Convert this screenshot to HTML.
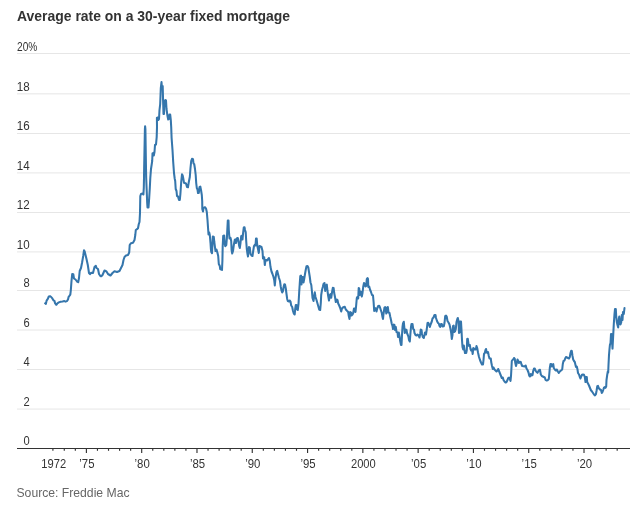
<!DOCTYPE html>
<html lang="en">
<head>
<meta charset="utf-8">
<title>Average rate on a 30-year fixed mortgage</title>
<style>
html,body{margin:0;padding:0;background:#fff;}
body{width:640px;height:509px;overflow:hidden;font-family:"Liberation Sans",sans-serif;}
svg{display:block;position:absolute;left:0;top:0;}
svg text{font-family:"Liberation Sans",sans-serif;}
.t{fill:#333;font-size:13px;}
</style>
</head>
<body>
<svg width="640" height="509" viewBox="0 0 640 509">
<rect width="640" height="509" fill="#fff"/>
<text x="17" y="21" font-size="14" font-weight="bold" fill="#333" textLength="273" lengthAdjust="spacingAndGlyphs">Average rate on a 30-year fixed mortgage</text>
<g stroke="#e6e6e6" stroke-width="1">
<line x1="17" x2="630" y1="53.5" y2="53.5"/>
<line x1="17" x2="630" y1="93.85" y2="93.85"/>
<line x1="17" x2="630" y1="133.5" y2="133.5"/>
<line x1="17" x2="630" y1="172.9" y2="172.9"/>
<line x1="17" x2="630" y1="212.5" y2="212.5"/>
<line x1="17" x2="630" y1="251.9" y2="251.9"/>
<line x1="17" x2="630" y1="290.5" y2="290.5"/>
<line x1="17" x2="630" y1="330.0" y2="330.0"/>
<line x1="17" x2="630" y1="369.5" y2="369.5"/>
<line x1="17" x2="630" y1="409.05" y2="409.05"/>
</g>
<g class="t">
<text x="17" y="50.90" textLength="20.3" lengthAdjust="spacingAndGlyphs">20%</text>
<text x="29.6" y="90.65" text-anchor="end" textLength="12.9" lengthAdjust="spacingAndGlyphs">18</text>
<text x="29.6" y="130.30" text-anchor="end" textLength="12.9" lengthAdjust="spacingAndGlyphs">16</text>
<text x="29.6" y="169.70" text-anchor="end" textLength="12.9" lengthAdjust="spacingAndGlyphs">14</text>
<text x="29.6" y="209.30" text-anchor="end" textLength="12.9" lengthAdjust="spacingAndGlyphs">12</text>
<text x="29.6" y="248.70" text-anchor="end" textLength="12.9" lengthAdjust="spacingAndGlyphs">10</text>
<text x="29.6" y="287.30" text-anchor="end" textLength="6.2" lengthAdjust="spacingAndGlyphs">8</text>
<text x="29.6" y="326.80" text-anchor="end" textLength="6.2" lengthAdjust="spacingAndGlyphs">6</text>
<text x="29.6" y="366.30" text-anchor="end" textLength="6.2" lengthAdjust="spacingAndGlyphs">4</text>
<text x="29.6" y="405.85" text-anchor="end" textLength="6.2" lengthAdjust="spacingAndGlyphs">2</text>
<text x="29.6" y="445.30" text-anchor="end" textLength="6.2" lengthAdjust="spacingAndGlyphs">0</text>
</g>
<g stroke="#333" stroke-width="1.15">
<line x1="17" x2="630" y1="448.5" y2="448.5" stroke-width="1"/>
<line x1="52.90" x2="52.90" y1="449" y2="450.8"/>
<line x1="64.28" x2="64.28" y1="449" y2="450.8"/>
<line x1="75.34" x2="75.34" y1="449" y2="450.8"/>
<line x1="86.40" x2="86.40" y1="449" y2="453"/>
<line x1="97.46" x2="97.46" y1="449" y2="450.8"/>
<line x1="108.52" x2="108.52" y1="449" y2="450.8"/>
<line x1="119.57" x2="119.57" y1="449" y2="450.8"/>
<line x1="130.63" x2="130.63" y1="449" y2="450.8"/>
<line x1="141.69" x2="141.69" y1="449" y2="453"/>
<line x1="152.75" x2="152.75" y1="449" y2="450.8"/>
<line x1="163.81" x2="163.81" y1="449" y2="450.8"/>
<line x1="174.86" x2="174.86" y1="449" y2="450.8"/>
<line x1="185.92" x2="185.92" y1="449" y2="450.8"/>
<line x1="196.98" x2="196.98" y1="449" y2="453"/>
<line x1="208.04" x2="208.04" y1="449" y2="450.8"/>
<line x1="219.10" x2="219.10" y1="449" y2="450.8"/>
<line x1="230.15" x2="230.15" y1="449" y2="450.8"/>
<line x1="241.21" x2="241.21" y1="449" y2="450.8"/>
<line x1="252.27" x2="252.27" y1="449" y2="453"/>
<line x1="263.33" x2="263.33" y1="449" y2="450.8"/>
<line x1="274.39" x2="274.39" y1="449" y2="450.8"/>
<line x1="285.44" x2="285.44" y1="449" y2="450.8"/>
<line x1="296.50" x2="296.50" y1="449" y2="450.8"/>
<line x1="307.56" x2="307.56" y1="449" y2="453"/>
<line x1="318.62" x2="318.62" y1="449" y2="450.8"/>
<line x1="329.68" x2="329.68" y1="449" y2="450.8"/>
<line x1="340.73" x2="340.73" y1="449" y2="450.8"/>
<line x1="351.79" x2="351.79" y1="449" y2="450.8"/>
<line x1="362.85" x2="362.85" y1="449" y2="453"/>
<line x1="373.91" x2="373.91" y1="449" y2="450.8"/>
<line x1="384.97" x2="384.97" y1="449" y2="450.8"/>
<line x1="396.02" x2="396.02" y1="449" y2="450.8"/>
<line x1="407.08" x2="407.08" y1="449" y2="450.8"/>
<line x1="418.14" x2="418.14" y1="449" y2="453"/>
<line x1="429.20" x2="429.20" y1="449" y2="450.8"/>
<line x1="440.26" x2="440.26" y1="449" y2="450.8"/>
<line x1="451.31" x2="451.31" y1="449" y2="450.8"/>
<line x1="462.37" x2="462.37" y1="449" y2="450.8"/>
<line x1="473.43" x2="473.43" y1="449" y2="453"/>
<line x1="484.49" x2="484.49" y1="449" y2="450.8"/>
<line x1="495.55" x2="495.55" y1="449" y2="450.8"/>
<line x1="506.60" x2="506.60" y1="449" y2="450.8"/>
<line x1="517.66" x2="517.66" y1="449" y2="450.8"/>
<line x1="528.72" x2="528.72" y1="449" y2="453"/>
<line x1="539.78" x2="539.78" y1="449" y2="450.8"/>
<line x1="550.84" x2="550.84" y1="449" y2="450.8"/>
<line x1="561.89" x2="561.89" y1="449" y2="450.8"/>
<line x1="572.95" x2="572.95" y1="449" y2="450.8"/>
<line x1="584.01" x2="584.01" y1="449" y2="453"/>
<line x1="595.07" x2="595.07" y1="449" y2="450.8"/>
<line x1="606.13" x2="606.13" y1="449" y2="450.8"/>
<line x1="617.18" x2="617.18" y1="449" y2="450.8"/>
</g>
<g class="t" text-anchor="middle">
<text x="53.73" y="467.7" textLength="24.8" lengthAdjust="spacingAndGlyphs">1972</text>
<text x="86.90" y="467.7" textLength="15.2" lengthAdjust="spacingAndGlyphs">’75</text>
<text x="142.19" y="467.7" textLength="15.2" lengthAdjust="spacingAndGlyphs">’80</text>
<text x="197.48" y="467.7" textLength="15.2" lengthAdjust="spacingAndGlyphs">’85</text>
<text x="252.77" y="467.7" textLength="15.2" lengthAdjust="spacingAndGlyphs">’90</text>
<text x="308.06" y="467.7" textLength="15.2" lengthAdjust="spacingAndGlyphs">’95</text>
<text x="363.35" y="467.7" textLength="24.8" lengthAdjust="spacingAndGlyphs">2000</text>
<text x="418.64" y="467.7" textLength="15.2" lengthAdjust="spacingAndGlyphs">’05</text>
<text x="473.93" y="467.7" textLength="15.2" lengthAdjust="spacingAndGlyphs">’10</text>
<text x="529.22" y="467.7" textLength="15.2" lengthAdjust="spacingAndGlyphs">’15</text>
<text x="584.51" y="467.7" textLength="15.2" lengthAdjust="spacingAndGlyphs">’20</text>
</g>
<path d="M45.10 303.30 L45.90 303.90 L46.60 300.60 L47.80 298.90 L48.80 296.40 L50.00 296.20 L51.20 297.00 L52.50 298.70 L53.40 300.30 L54.50 300.90 L55.00 303.10 L56.30 304.80 L57.40 303.30 L58.80 302.40 L60.60 301.80 L62.50 301.60 L64.40 301.10 L65.60 301.60 L67.00 301.10 L68.00 299.40 L68.60 296.90 L69.40 295.90 L70.30 294.70 L70.80 290.50 L71.50 281.00 L72.20 274.00 L73.30 274.20 L74.00 278.50 L75.50 279.50 L77.00 281.50 L78.20 282.20 L79.00 278.00 L79.70 271.00 L81.00 268.00 L82.00 263.00 L83.20 256.00 L84.00 250.30 L84.70 251.50 L86.50 259.00 L87.80 265.00 L89.00 273.00 L90.00 274.20 L91.00 272.80 L93.00 273.00 L94.50 267.00 L95.80 265.80 L96.50 268.00 L98.00 269.00 L99.00 274.00 L100.50 276.30 L101.50 276.20 L102.50 275.00 L104.50 270.50 L106.50 271.50 L108.00 274.00 L110.50 275.50 L112.50 273.00 L114.50 271.20 L117.00 272.00 L119.50 271.00 L121.00 268.00 L122.50 265.00 L123.50 260.00 L124.50 257.00 L126.00 255.50 L128.00 255.00 L129.20 252.50 L129.70 245.00 L131.00 243.20 L133.00 242.80 L134.50 240.00 L135.30 235.00 L135.80 230.00 L137.00 229.20 L138.00 228.30 L138.80 224.00 L139.50 222.00 L140.00 213.00 L140.30 196.00 L141.00 194.00 L142.50 193.50 L143.40 194.50 L143.80 188.00 L144.00 178.00 L144.20 165.00 L144.90 129.00 L145.10 126.20 L145.40 129.00 L146.00 168.00 L146.20 178.00 L146.60 188.00 L147.20 203.00 L147.50 207.50 L148.50 207.50 L149.20 198.00 L149.80 188.00 L150.30 178.00 L151.00 169.00 L152.20 161.00 L152.50 153.50 L153.50 153.00 L153.80 155.50 L154.50 152.00 L155.00 145.00 L156.00 144.50 L156.70 137.00 L157.00 127.00 L156.90 118.00 L157.80 117.50 L158.20 120.00 L159.00 119.00 L159.50 110.00 L160.20 104.00 L160.80 88.00 L161.50 82.00 L161.80 86.00 L162.70 86.00 L163.10 101.00 L163.50 114.00 L164.00 114.00 L164.50 101.00 L165.50 100.00 L166.00 100.50 L166.50 109.00 L167.50 116.00 L168.20 119.50 L169.00 119.00 L169.50 114.50 L170.20 114.50 L170.80 120.00 L171.20 127.00 L171.60 138.00 L172.50 150.00 L173.20 162.00 L174.00 173.00 L174.70 178.50 L175.20 181.00 L175.70 189.00 L176.50 191.00 L177.00 196.00 L178.00 196.50 L179.00 200.00 L179.80 200.00 L180.40 194.00 L181.20 182.00 L182.00 174.30 L182.60 175.20 L183.20 178.00 L184.00 182.80 L186.00 183.50 L187.00 187.00 L188.00 187.20 L188.80 182.00 L189.80 177.00 L190.50 168.00 L191.20 161.00 L192.00 158.80 L193.00 159.20 L193.50 163.50 L194.20 164.00 L195.00 169.00 L195.70 175.00 L196.20 183.00 L196.80 188.00 L197.50 189.50 L198.00 193.00 L198.80 193.00 L199.50 187.00 L200.30 186.50 L201.00 190.00 L201.80 195.00 L202.20 201.00 L202.30 209.00 L203.00 211.50 L203.50 208.00 L205.00 207.20 L206.00 208.50 L206.80 212.00 L207.50 220.00 L208.20 230.00 L208.50 234.50 L209.20 232.50 L209.80 235.00 L210.50 243.00 L210.90 249.00 L211.30 252.00 L212.00 253.20 L212.40 245.00 L212.80 236.50 L213.80 237.00 L214.30 242.00 L214.80 246.00 L215.50 251.00 L216.50 249.50 L217.50 253.00 L218.20 256.00 L218.80 264.00 L219.80 266.00 L220.20 269.00 L221.20 269.50 L222.00 270.00 L222.40 261.00 L222.70 246.00 L223.20 236.00 L224.20 235.50 L224.80 244.00 L225.30 246.20 L226.30 245.00 L226.90 238.00 L227.20 232.00 L227.80 220.50 L228.50 220.50 L228.80 230.00 L229.50 238.50 L230.50 237.80 L231.20 241.00 L231.60 250.00 L232.20 253.50 L233.00 251.00 L233.80 245.00 L234.80 239.80 L235.50 239.50 L236.00 243.00 L236.80 238.50 L237.80 238.00 L238.50 241.50 L239.20 246.00 L239.80 248.00 L240.50 243.00 L241.20 236.00 L242.00 235.50 L242.50 239.50 L243.00 234.00 L243.80 227.50 L244.50 227.20 L245.00 230.00 L245.70 232.00 L246.20 241.00 L246.80 249.00 L247.50 254.00 L248.00 256.50 L248.50 251.00 L249.00 247.00 L249.80 247.50 L250.50 254.00 L251.50 255.50 L252.50 256.00 L253.20 251.00 L254.00 246.00 L255.00 244.50 L255.50 245.50 L256.00 238.50 L256.70 238.50 L257.20 245.00 L258.00 249.00 L258.80 253.00 L259.50 246.00 L260.50 246.50 L261.50 247.00 L262.50 251.00 L263.00 258.50 L264.20 257.30 L264.80 265.00 L265.50 260.00 L267.00 260.50 L268.20 259.00 L269.00 258.00 L269.80 261.00 L270.50 267.00 L271.50 271.50 L272.50 274.00 L273.50 277.00 L274.20 280.00 L274.80 285.50 L275.50 278.00 L276.50 272.00 L277.20 270.80 L278.00 274.00 L279.00 278.00 L280.00 281.00 L280.80 287.00 L281.50 290.50 L282.20 292.50 L283.00 291.00 L283.60 287.00 L284.30 284.30 L285.00 284.50 L285.80 288.50 L286.50 294.00 L287.20 299.00 L287.80 301.00 L289.00 301.50 L289.80 300.50 L290.50 301.50 L291.20 305.50 L292.20 307.00 L293.00 311.00 L293.80 313.50 L294.70 314.50 L295.20 309.00 L295.80 305.00 L296.50 305.00 L297.20 309.50 L297.80 310.00 L298.50 304.00 L299.20 292.00 L299.80 283.00 L300.30 276.00 L301.00 275.50 L301.50 284.50 L302.00 277.00 L303.00 277.00 L303.50 282.50 L304.20 279.00 L305.00 274.00 L305.80 269.50 L306.50 266.20 L307.50 266.00 L308.30 267.50 L309.00 272.00 L309.80 277.00 L310.50 282.50 L311.30 285.00 L311.90 291.00 L312.50 298.00 L313.50 301.00 L314.20 296.00 L314.80 292.30 L315.50 297.00 L316.50 300.00 L317.50 303.50 L318.50 307.00 L319.20 309.50 L320.20 310.00 L320.80 303.00 L321.20 295.00 L322.00 290.00 L322.80 287.00 L323.50 284.00 L324.50 283.00 L325.20 291.00 L325.80 286.00 L326.80 284.50 L327.50 291.00 L328.20 296.00 L329.00 300.50 L329.80 295.00 L330.50 294.00 L331.20 297.80 L332.00 292.50 L332.80 287.80 L333.60 287.90 L334.20 293.00 L335.00 297.00 L335.80 302.00 L336.80 299.50 L337.50 300.00 L338.20 303.50 L339.20 305.50 L340.20 308.00 L341.20 311.50 L342.00 308.50 L343.20 307.20 L344.80 306.80 L345.80 309.50 L347.00 310.80 L348.20 312.00 L348.80 316.00 L349.50 319.00 L350.20 312.00 L351.00 312.50 L351.50 315.50 L352.50 314.50 L353.20 313.00 L354.00 308.50 L354.80 308.50 L355.50 312.00 L356.20 305.00 L356.80 298.00 L357.50 296.80 L358.20 298.50 L358.70 288.00 L359.20 288.50 L359.80 295.00 L360.50 291.50 L361.20 292.00 L361.80 296.50 L362.50 293.00 L363.20 287.00 L364.00 283.00 L364.80 284.00 L365.50 286.50 L366.20 286.00 L366.80 279.00 L367.50 278.00 L368.00 279.00 L368.30 287.00 L369.20 286.50 L370.00 289.50 L371.00 292.00 L372.00 295.00 L373.00 295.50 L373.60 302.00 L374.20 311.00 L375.00 308.00 L375.80 308.50 L376.50 311.50 L377.20 308.50 L378.20 306.00 L379.20 305.80 L380.00 307.50 L380.80 310.00 L381.80 313.00 L382.50 317.00 L383.00 319.00 L383.50 314.00 L384.50 307.50 L385.20 307.00 L385.80 310.00 L386.30 313.50 L387.00 308.00 L387.80 307.00 L388.50 312.50 L389.50 313.00 L390.20 316.50 L391.00 320.00 L391.80 324.00 L392.50 326.00 L393.00 329.00 L393.80 324.50 L394.50 325.00 L395.00 330.00 L395.80 327.00 L396.50 332.00 L397.50 332.50 L398.00 337.00 L398.80 332.50 L399.50 336.00 L400.20 341.00 L401.00 345.00 L401.50 345.00 L402.00 335.00 L402.50 327.00 L403.00 323.50 L403.80 321.80 L404.20 326.00 L404.80 333.00 L405.50 329.50 L406.50 330.00 L407.00 333.00 L407.80 335.00 L408.50 337.00 L409.00 340.00 L409.80 341.50 L410.30 335.00 L411.00 327.00 L411.50 324.00 L412.50 324.00 L413.20 329.00 L414.00 329.50 L414.50 333.00 L415.50 335.00 L416.50 335.50 L417.50 334.50 L418.50 335.50 L419.50 337.50 L420.20 334.00 L420.80 329.50 L421.50 330.00 L422.00 334.00 L422.80 337.00 L423.80 338.00 L424.50 335.00 L425.00 332.50 L426.00 334.50 L426.80 329.00 L427.50 323.00 L428.20 322.80 L429.00 324.50 L429.80 327.00 L430.80 324.00 L431.80 321.50 L432.50 318.50 L433.50 317.50 L434.50 315.00 L435.50 315.00 L436.00 318.00 L437.00 321.00 L438.00 323.00 L438.80 323.50 L439.50 326.00 L440.20 327.00 L441.00 324.00 L441.80 324.00 L442.50 326.50 L443.80 326.20 L444.50 323.00 L445.20 316.00 L446.00 315.50 L446.70 316.50 L447.50 321.00 L448.50 322.50 L449.50 324.50 L450.50 329.00 L451.20 333.00 L451.80 339.00 L452.50 335.00 L453.00 326.00 L453.70 325.50 L454.30 332.00 L455.00 331.50 L455.80 329.00 L456.50 322.00 L457.20 319.50 L457.80 318.00 L458.50 321.00 L459.00 333.00 L459.70 332.50 L460.20 321.50 L461.00 321.50 L461.50 330.00 L462.00 340.00 L462.50 347.00 L463.20 349.50 L463.80 345.50 L464.50 350.00 L465.00 353.00 L466.20 353.00 L466.80 350.00 L467.20 339.00 L467.80 338.80 L468.50 344.00 L469.00 346.00 L469.80 344.80 L470.50 349.00 L471.20 350.50 L472.00 349.50 L472.70 354.00 L473.30 348.00 L474.00 348.50 L474.80 349.50 L475.80 349.50 L476.50 346.00 L477.20 348.00 L478.00 352.50 L479.00 357.00 L480.00 360.00 L481.00 362.50 L482.00 364.50 L483.00 364.50 L483.50 360.00 L484.00 354.00 L484.80 353.00 L485.50 350.00 L486.00 349.00 L486.50 351.00 L487.20 353.00 L488.00 352.00 L488.80 356.00 L489.50 358.50 L490.80 358.50 L491.20 362.00 L492.00 366.00 L492.80 369.00 L493.50 367.50 L494.50 369.50 L495.50 370.50 L496.50 371.50 L497.50 370.50 L498.20 369.00 L499.00 371.00 L500.00 373.50 L501.00 376.00 L501.80 378.00 L502.80 377.50 L503.50 380.00 L504.50 381.50 L505.50 382.50 L506.50 382.20 L507.50 380.00 L508.20 378.00 L509.00 377.50 L509.80 379.00 L510.50 381.00 L511.00 376.00 L511.50 367.00 L511.80 361.00 L512.50 360.00 L513.20 359.50 L514.00 358.00 L514.80 359.00 L515.30 363.00 L516.00 366.00 L516.80 363.00 L517.50 359.50 L518.20 361.00 L519.00 363.00 L519.80 361.80 L520.80 362.00 L521.50 364.50 L522.20 366.00 L523.50 366.20 L524.80 366.50 L525.70 365.50 L526.50 368.50 L527.50 370.00 L528.50 372.50 L529.20 375.50 L530.00 376.50 L530.80 374.00 L531.50 375.50 L532.50 375.00 L533.20 371.00 L534.00 368.50 L534.80 368.50 L535.50 370.50 L536.50 372.00 L537.50 372.80 L538.50 371.00 L539.30 370.00 L540.00 369.80 L540.80 374.50 L541.80 376.00 L542.80 376.50 L543.80 377.00 L544.80 377.50 L545.50 379.80 L546.50 380.50 L547.80 380.20 L548.80 379.00 L549.30 374.00 L549.80 368.00 L550.50 364.00 L551.20 364.00 L551.80 366.50 L552.50 365.00 L553.20 364.00 L553.80 368.00 L554.80 369.50 L555.80 370.50 L556.80 369.50 L557.80 371.50 L558.80 373.00 L559.80 371.50 L561.00 370.50 L562.20 369.50 L562.80 364.00 L563.50 361.00 L564.50 360.50 L565.20 358.50 L566.00 357.00 L567.00 357.50 L568.00 358.00 L569.00 358.50 L569.80 357.00 L570.50 353.00 L571.20 350.80 L571.80 351.00 L572.50 356.00 L573.20 359.50 L574.00 361.00 L574.80 362.00 L575.50 365.00 L576.00 367.00 L576.80 366.50 L577.50 369.50 L578.00 373.00 L579.00 374.50 L579.80 377.00 L580.50 378.50 L581.20 376.50 L582.00 374.80 L583.00 374.50 L584.00 374.80 L584.80 377.00 L585.50 382.00 L586.00 377.00 L586.80 377.00 L587.20 382.00 L588.00 383.50 L589.00 385.50 L590.00 388.00 L590.80 390.00 L592.00 391.50 L593.00 393.00 L594.00 394.50 L595.00 395.40 L595.90 394.20 L596.60 390.50 L597.30 386.20 L598.00 385.90 L598.70 388.00 L600.00 389.50 L601.00 390.00 L601.80 393.00 L602.50 392.00 L603.20 390.00 L604.00 387.50 L604.80 387.00 L605.50 387.80 L606.20 386.50 L606.50 380.00 L607.20 375.00 L607.80 371.50 L608.20 372.50 L608.50 365.00 L609.00 355.00 L609.50 349.00 L609.90 345.00 L610.50 343.00 L611.00 334.00 L611.50 334.00 L612.00 341.00 L612.50 348.60 L613.00 339.00 L613.80 324.00 L614.50 314.00 L615.00 309.00 L615.80 309.00 L616.20 316.00 L616.80 322.00 L617.50 325.00 L618.20 327.50 L618.80 319.00 L619.30 316.50 L619.80 324.00 L620.50 324.50 L621.20 322.50 L621.80 315.00 L622.50 320.00 L623.00 312.00 L623.80 314.00 L624.50 308.00" fill="none" stroke="#3576ac" stroke-width="2.05" stroke-linejoin="round" stroke-linecap="round"/>
<text x="16.5" y="497.2" font-size="13" fill="#666" textLength="113" lengthAdjust="spacingAndGlyphs">Source: Freddie Mac</text>
</svg>
</body>
</html>
